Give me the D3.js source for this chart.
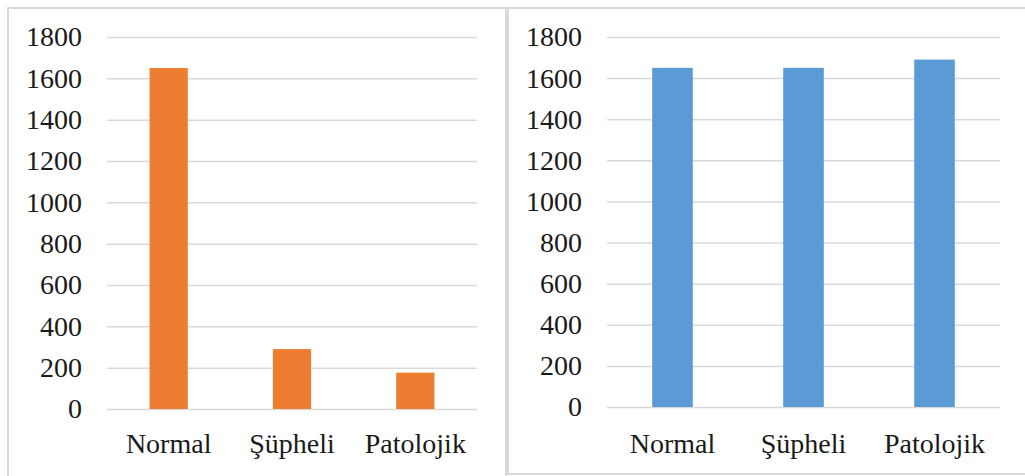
<!DOCTYPE html>
<html>
<head>
<meta charset="utf-8">
<script src="https://cdn.jsdelivr.net/npm/d3@7"></script>
<style>
  body { margin: 0; background: #fff; }
  .axis .domain { display: none; }
  .grid line { stroke: #d9d9d9; stroke-width: 1.5px; }
</style>
</head>
<body>
<script>
var categories = ["Normal", "Şüpheli", "Patolojik"];
var leftValues = [1650, 290, 176];
var rightValues = [1650, 1650, 1690];
var yTicks = [0, 200, 400, 600, 800, 1000, 1200, 1400, 1600, 1800];

var fontFamily = "'Liberation Serif', 'Times New Roman', serif";

var svg = d3.select("body").append("svg")
    .attr("width", 1025)
    .attr("height", 476);

svg.append("rect").attr("width", 1025).attr("height", 476).attr("fill", "#fff");

//panel borders
svg.append("rect")
    .attr("x", 8).attr("y", 8).attr("width", 498).attr("height", 490)
    .attr("fill", "none").attr("stroke", "#d9d9d9").attr("stroke-width", 2);
svg.append("rect")
    .attr("x", 508).attr("y", 8).attr("width", 540).attr("height", 466)
    .attr("fill", "none").attr("stroke", "#d9d9d9").attr("stroke-width", 2);

function styleText(sel){
  sel.style("font-family", fontFamily)
    .style("font-size", "28px")
    .style("fill", "#1a1a1a");
}

function barChart(values, color, x0, x1, yTop, yBottom, barFrac){
  var g = svg.append("g");

  var xScale = d3.scaleBand()
    .domain(categories)
    .range([x0, x1])
    .padding(0);

  var yScale = d3.scaleLinear()
    .domain([0, 1800])
    .range([yBottom, yTop]);

  //grid + y labels
  var yAxis = d3.axisLeft(yScale)
    .tickValues(yTicks)
    .tickFormat(d3.format("d"))
    .tickSize(-(x1 - x0))
    .tickPadding(25);

  var yG = g.append("g")
      .attr("class", "axis grid")
      .attr("transform", "translate(" + x0 + ",0)")
      .call(yAxis);
  yG.attr("font-family", null).attr("font-size", null);
  styleText(yG.selectAll("text"));

  //bars
  var bw = xScale.bandwidth() * barFrac;
  g.selectAll("rect.bar")
      .data(values)
    .enter().append("rect")
      .attr("class", "bar")
      .attr("x", function(d, i){ return xScale(categories[i]) + (xScale.bandwidth() - bw) / 2; })
      .attr("width", bw)
      .attr("y", function(d){ return yScale(d); })
      .attr("height", function(d){ return yBottom - yScale(d); })
      .style("fill", color);

  //x labels
  var xAxis = d3.axisBottom(xScale).tickSize(0).tickPadding(0);
  var xG = g.append("g")
      .attr("class", "axis")
      .attr("transform", "translate(0," + yBottom + ")")
      .call(xAxis);
  xG.attr("font-family", null).attr("font-size", null);
  xG.selectAll("text")
      .attr("y", 452.5 - yBottom)
      .attr("dy", 0);
  styleText(xG.selectAll("text"));
}

barChart(leftValues, "#ed7d31", 107, 477, 37, 409, 0.31);
barChart(rightValues, "#5b9bd5", 607, 1000, 37, 407, 0.31);
</script>
</body>
</html>
